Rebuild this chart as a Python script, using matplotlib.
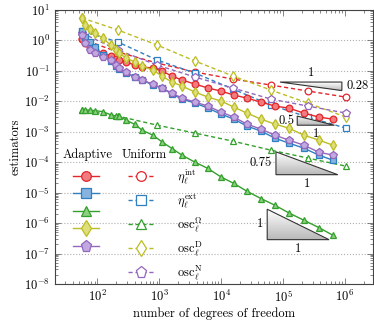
import numpy as np
import matplotlib
matplotlib.use('agg')
import matplotlib.pyplot as plt
from matplotlib.patches import Polygon
from matplotlib.ticker import LogLocator, NullFormatter

plt.rcParams['font.family'] = 'serif'
plt.rcParams['font.serif'] = ['cmr10']
plt.rcParams['mathtext.fontset'] = 'cm'
plt.rcParams['axes.formatter.use_mathtext'] = True
plt.rcParams['font.size'] = 9

# degrees of freedom
dofs_adaptive = [56, 64, 76, 91, 121, 163, 199, 223, 289, 403, 523, 788, 1100, 1600, 2320,
                 3760, 6100, 9890, 16000, 26000, 43800, 73600, 124000, 216000, 378000, 638000]
dofs_uniform = [56, 214, 914, 3760, 15450, 63500, 252000, 1035000]

# eta_int
eta_int_adaptive = [1.11, 0.821, 0.607, 0.483, 0.385, 0.307, 0.244, 0.227, 0.195, 0.155, 0.133, 0.124, 0.0985,
                    0.0675, 0.0498, 0.0368, 0.0272, 0.0217, 0.0160, 0.0127, 0.0094, 0.00695, 0.00597, 0.00409,
                    0.00302, 0.00259]
eta_int_uniform = [1.11, 0.415, 0.181, 0.0914, 0.0537, 0.0341, 0.0217, 0.0137]

# eta_ext
eta_ext_adaptive = [2.04, 1.29, 0.886, 0.607, 0.331, 0.210, 0.144, 0.115, 0.0847, 0.0625, 0.0498, 0.0341, 0.0272,
                    0.0173, 0.0118, 0.00873, 0.00597, 0.00379, 0.00259, 0.00153, 0.00105, 6.15e-4, 4.22e-4,
                    2.89e-4, 1.70e-4, 1.16e-4]
eta_ext_uniform = [2.04, 0.886, 0.227, 0.0847, 0.0252, 0.0075, 0.00302, 0.00131]

# osc_Omega
osc_om_adaptive = [5.14e-3, 5.14e-3, 5.14e-3, 4.9e-3, 4.6e-3, 3.6e-3, 3.26e-3, 3.26e-3, 2.41e-3, 1.73e-3, 1.13e-3,
                   7.7e-4, 4.65e-4, 2.81e-4, 1.70e-4, 1.0e-4, 6.2e-5, 3.28e-5, 2.0e-5, 1.11e-5, 6.4e-6, 3.85e-6,
                   2.15e-6, 1.24e-6, 7.1e-7, 3.97e-7]
osc_om_uniform = [5.14e-3, 3.26e-3, 1.65e-3, 9.0e-4, 4.9e-4, 2.48e-4, 1.36e-4, 7.4e-5]

# osc_D
osc_d_adaptive = [5.46, 3.21, 2.37, 1.75, 1.20, 0.706, 0.483, 0.385, 0.264, 0.195, 0.144, 0.106, 0.0675, 0.0428,
                  0.0316, 0.0201, 0.0137, 0.0102, 0.00644, 0.00409, 0.00259, 0.00178, 0.00131, 7.7e-4, 5.29e-4,
                  3.62e-4]
osc_d_uniform = [5.46, 2.20, 0.706, 0.210, 0.0675, 0.0233, 0.00873, 0.00302]

# osc_N
osc_n_adaptive = [1.51, 0.821, 0.483, 0.385, 0.284, 0.227, 0.155, 0.124, 0.0914, 0.0625, 0.0498, 0.0368, 0.0272,
                  0.0186, 0.0127, 0.00942, 0.00695, 0.00442, 0.00302, 0.00178, 0.00122, 7.7e-4, 5.29e-4, 3.62e-4,
                  2.13e-4, 1.70e-4]
osc_n_uniform = [1.75, 0.483, 0.155, 0.0625, 0.0272, 0.0118, 0.00695, 0.00409]

labels = [r'$\eta_\ell^{\mathrm{int}}$', r'$\eta_\ell^{\mathrm{ext}}$', r'$\mathrm{osc}_\ell^{\Omega}$',
          r'$\mathrm{osc}_\ell^{\mathrm{D}}$', r'$\mathrm{osc}_\ell^{\mathrm{N}}$']
colors = ['#e3262b', '#2f7fc1', '#33a02c', '#bcbd22', '#9467bd']
fills = ['#f07c7f', '#86b3df', '#8ccf7f', '#dede7a', '#c1a8e0']
markers = ['o', 's', '^', 'd', 'p']
msizes = [4.8, 4.6, 5.0, 5.4, 5.6]

adaptive = [eta_int_adaptive, eta_ext_adaptive, osc_om_adaptive, osc_d_adaptive, osc_n_adaptive]
uniform = [eta_int_uniform, eta_ext_uniform, osc_om_uniform, osc_d_uniform, osc_n_uniform]

fig = plt.figure(figsize=(3.74, 3.26), dpi=100)
ax = fig.add_axes([0.147, 0.129, 0.8495, 0.8405])
ax.set_xscale('log')
ax.set_yscale('log')
ax.set_xlim(20.6, 2.8e6)
ax.set_ylim(1e-8, 1e1)

h_ad = []
h_un = []
for i in range(5):
    l1, = ax.plot(dofs_uniform, uniform[i], linestyle=(0, (3, 2)), color=colors[i], lw=1.0,
                  marker=markers[i], ms=msizes[i], mfc='white', mec=colors[i], mew=0.9)
    h_un.append(l1)
for i in range(5):
    l2, = ax.plot(dofs_adaptive, adaptive[i], '-', color=colors[i], lw=1.0,
                  marker=markers[i], ms=msizes[i], mfc=fills[i], mec=colors[i], mew=0.9)
    h_ad.append(l2)

ax.yaxis.set_major_locator(LogLocator(base=10, numticks=20))
ax.yaxis.set_minor_locator(LogLocator(base=10, subs=np.arange(2, 10), numticks=20))
ax.yaxis.set_minor_formatter(NullFormatter())
ax.xaxis.set_major_locator(LogLocator(base=10, numticks=20))
ax.xaxis.set_minor_locator(LogLocator(base=10, subs=np.arange(2, 10), numticks=20))
ax.xaxis.set_minor_formatter(NullFormatter())
ax.tick_params(which='both', direction='in', top=True, right=True, color='#555555', width=0.5)
ax.tick_params(which='major', length=4)
ax.tick_params(which='minor', length=2)
ax.grid(True, which='major', axis='y', linestyle=':', color='#b0b0b0', lw=0.8)
for s in ax.spines.values():
    s.set_color('#444444')
    s.set_linewidth(0.8)

ax.set_xlabel('number of degrees of freedom', labelpad=2)
ax.set_ylabel('estimators', labelpad=2)


def slope_triangle(x0, x1, ytop, ybot, corner):
    if corner == 'top':
        verts = [(x0, ytop), (x1, ytop), (x1, ybot)]
    else:
        verts = [(x0, ytop), (x0, ybot), (x1, ybot)]
    poly = Polygon(verts, closed=True, facecolor='none', edgecolor='#333333', lw=0.8,
                   transform=ax.transData, zorder=6)
    ax.add_patch(poly)
    to_axes = ax.transData + ax.transAxes.inverted()
    (ax0, ay0), (ax1, ay1) = to_axes.transform([(x0, ybot), (x1, ytop)])
    shade = np.linspace(1.0, 0.72, 64)
    grad = np.repeat(shade[:, None, None], 3, axis=2).repeat(2, axis=1)
    im = ax.imshow(grad, extent=[ax0, ax1, ay0, ay1], transform=ax.transAxes, aspect='auto',
                   origin='upper', zorder=5, interpolation='bilinear')
    im.set_clip_path(poly)


# rate 0.28 (uniform eta_int)
x0, x1, yt = 8.9e4, 8.9e5, 0.0428
yb = yt * 10 ** -0.28
slope_triangle(x0, x1, yt, yb, 'top')
ax.annotate('1', xy=(np.sqrt(x0 * x1), yt), xytext=(0, 2), textcoords='offset points', ha='center', va='bottom')
ax.annotate('0.28', xy=(x1, np.sqrt(yt * yb)), xytext=(3, 0), textcoords='offset points', ha='left', va='center')

# rate 0.5 (uniform eta_ext)
x0, x1, yt = 1.69e5, 6.76e5, 3.26e-3
yb = yt * 10 ** -0.3
slope_triangle(x0, x1, yt, yb, 'left')
ax.annotate('0.5', xy=(x0, np.sqrt(yt * yb)), xytext=(-2, 0), textcoords='offset points', ha='right', va='center')
ax.annotate('1', xy=(np.sqrt(x0 * x1), yb), xytext=(0, -2), textcoords='offset points', ha='center', va='top')

# rate 0.75 (uniform osc_Omega)
x0, x1, yt = 7.66e4, 7.66e5, 2.18e-4
yb = yt * 10 ** -0.75
slope_triangle(x0, x1, yt, yb, 'left')
ax.annotate('0.75', xy=(x0, np.sqrt(yt * yb)), xytext=(-3, 0), textcoords='offset points', ha='right', va='center')
ax.annotate('1', xy=(np.sqrt(x0 * x1), yb), xytext=(0, -2), textcoords='offset points', ha='center', va='top')

# rate 1 (adaptive osc_Omega)
x0, x1, yt = 5.53e4, 5.53e5, 2.85e-6
yb = yt * 10 ** -1
slope_triangle(x0, x1, yt, yb, 'left')
ax.annotate('1', xy=(x0, np.sqrt(yt * yb)), xytext=(-3, 0), textcoords='offset points', ha='right', va='center')
ax.annotate('1', xy=(np.sqrt(x0 * x1), yb), xytext=(0, -2), textcoords='offset points', ha='center', va='top')

# legend
ax.text(0.024, 0.471, 'Adaptive', transform=ax.transAxes, ha='left', va='center')
ax.text(0.21, 0.471, 'Uniform', transform=ax.transAxes, ha='left', va='center')
ax.legend(h_ad + h_un, [''] * 5 + labels, ncol=2, loc='upper left', bbox_to_anchor=(0.057, 0.425),
          frameon=False, handlelength=2.1, handletextpad=1.8, columnspacing=0.5, labelspacing=0.42,
          borderpad=0, borderaxespad=0, markerscale=1.45, fontsize=9)

plt.savefig('out.png', dpi=100)
